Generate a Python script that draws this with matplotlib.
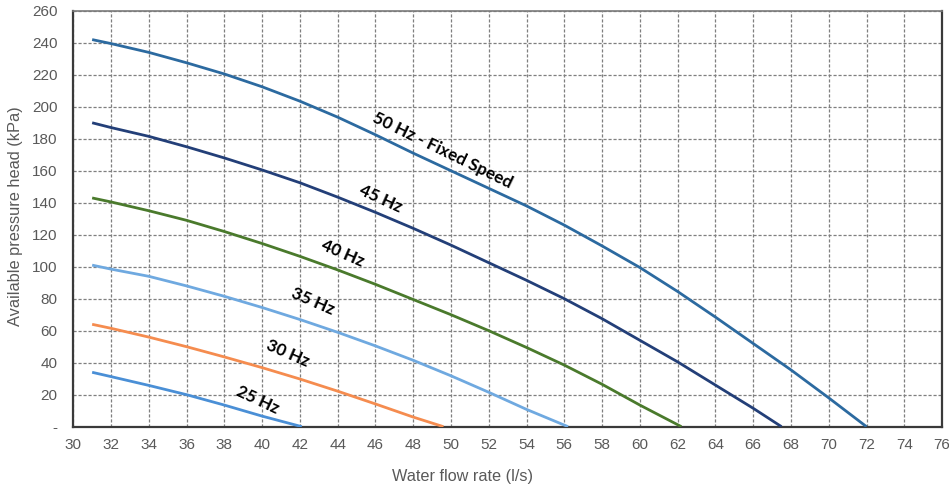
import matplotlib
matplotlib.use("Agg")
import matplotlib.pyplot as plt

# pump curves (flow l/s, head kPa)
flow_50 = [31, 32, 34, 36, 38, 40, 42, 44, 46, 48, 50, 52, 54, 56, 58, 60, 62, 64, 66, 68, 70, 72]
head_50 = [242, 239.5, 234, 227.5, 220.5, 212.5, 203.5, 193.5, 182.5, 171, 160, 149, 138, 126, 113, 99.5, 84.5, 68.5, 52, 35.5, 18, 0]

flow_45 = [31, 32, 34, 36, 38, 40, 42, 44, 46, 48, 50, 52, 54, 56, 58, 60, 62, 64, 66, 67.5]
head_45 = [190, 187, 181.5, 175, 168, 160.5, 152.5, 143.5, 134, 124, 113.5, 102.5, 91.5, 80, 67.5, 54, 40.5, 26, 11.5, 0]

flow_40 = [31, 32, 34, 36, 38, 40, 42, 44, 46, 48, 50, 52, 54, 56, 58, 60, 62.2]
head_40 = [143, 140.5, 135, 129, 122, 114.5, 106.5, 98, 89, 79.5, 70, 60, 49.5, 38.5, 26.5, 13.5, 0]

flow_35 = [31, 32, 34, 36, 38, 40, 42, 44, 46, 48, 50, 52, 54, 56.2]
head_35 = [101, 98.5, 94, 88, 81.5, 74.5, 67, 59, 50.5, 41.5, 31.8, 21.5, 10.8, 0]

flow_30 = [31, 32, 34, 36, 38, 40, 42, 44, 46, 48, 49.6]
head_30 = [64, 61.5, 56, 50, 43.6, 36.9, 29.8, 22.2, 14.2, 6, 0]

flow_25 = [31, 32, 34, 36, 38, 40, 42.1]
head_25 = [34, 31.3, 25.8, 20, 13.5, 6.6, 0]

series = [
    (flow_50, head_50, "#2c6aa0", "50 Hz - Fixed Speed", 49.52, 172.4, -26),
    (flow_45, head_45, "#233f78", "45 Hz", 46.25, 142.6, -24.5),
    (flow_40, head_40, "#4a7a2c", "40 Hz", 44.28, 108.2, -23.5),
    (flow_35, head_35, "#6fa9e0", "35 Hz", 42.7, 78.2, -23.5),
    (flow_30, head_30, "#f58c4f", "30 Hz", 41.34, 45.6, -23.5),
    (flow_25, head_25, "#4a8fd6", "25 Hz", 39.75, 16.6, -25),
]

x_ticks = list(range(30, 77, 2))
y_ticks = list(range(0, 261, 20))
y_tick_labels = ["-"] + [str(v) for v in y_ticks[1:]]

plt.rcParams["font.family"] = ["Liberation Sans", "DejaVu Sans"]

fig = plt.figure(figsize=(9.49, 4.91), dpi=100)
ax = fig.add_axes([0.0772, 0.131, 0.9155, 0.847])

for fx, hy, col, lab, lx, ly, rot in series:
    ax.plot(fx, hy, color=col, lw=2.0, solid_capstyle="butt",
            solid_joinstyle="round", zorder=3)
    ax.text(lx, ly, lab, rotation=rot, ha="center", va="center",
            fontsize=12.3, fontweight="bold", family=["Lato", "DejaVu Sans"],
            color="black", rotation_mode="anchor", zorder=4)

ax.set_xlim(30, 76)
ax.set_ylim(0, 260)
ax.set_xticks(x_ticks)
ax.set_yticks(y_ticks)
ax.set_yticklabels(y_tick_labels)
ax.grid(True, color="#7f7f7f", linestyle=(0, (2.5, 1.5)), linewidth=0.9, zorder=1)
ax.tick_params(length=0, labelsize=11, labelcolor="#595959")
ax.tick_params(axis="y", pad=11.5)
ax.tick_params(axis="x", pad=8)

for side in ["left", "bottom", "right"]:
    ax.spines[side].set_color("#3a3a3a")
    ax.spines[side].set_linewidth(1.6)
ax.spines["top"].set_color("#7a7a7a")
ax.spines["top"].set_linewidth(1.2)

ax.set_xlabel("Water flow rate (l/s)", fontsize=11.7, color="#595959", va="center")
ax.xaxis.set_label_coords(0.4476, -0.1195)
ax.set_ylabel("Available pressure head (kPa)", fontsize=11.8, color="#595959", va="center")
ax.yaxis.set_label_coords(-0.0667, 0.505)

fig.savefig("out.png", dpi=100)
